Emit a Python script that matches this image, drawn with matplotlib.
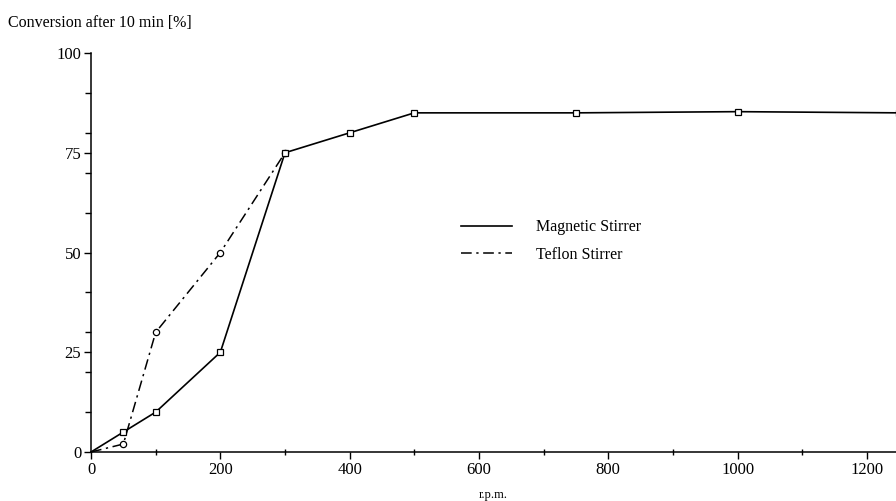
import matplotlib.pyplot as plt
from matplotlib.ticker import MultipleLocator

plt.rcParams['font.family'] = ['Liberation Serif', 'DejaVu Serif']

# magnetic stirrer (squares)
rpm_mag = [0, 50, 100, 200, 300, 400, 500, 750, 1000, 1250]
conv_mag = [0, 5, 10, 25, 75, 80, 85, 85, 85.3, 85]

# teflon stirrer (circles)
rpm_tef = [0, 50, 100, 200, 300]
conv_tef = [0, 2, 30, 50, 75]

fig = plt.figure(figsize=(8.96, 5.01), dpi=100)
ax = fig.add_axes([0.1016, 0.0978, 0.8984, 0.7964])

ax.plot(rpm_tef, conv_tef, color='black', lw=1.1, linestyle=(0, (7, 3, 1.5, 3)),
        marker='o', markersize=4.5, markerfacecolor='white', markeredgewidth=0.9,
        markevery=slice(1, None), label='Teflon Stirrer', clip_on=False, zorder=2)
ax.plot(rpm_mag, conv_mag, color='black', lw=1.2,
        marker='s', markersize=4.5, markerfacecolor='white', markeredgewidth=0.9,
        markevery=slice(1, None), label='Magnetic Stirrer', clip_on=False, zorder=3)

ax.set_xlim(0, 1245)
ax.set_ylim(0, 100)
ax.spines['top'].set_visible(False)
ax.spines['right'].set_visible(False)
ax.spines['left'].set_linewidth(1.1)
ax.spines['bottom'].set_linewidth(1.1)

ax.xaxis.set_major_locator(MultipleLocator(200))
ax.xaxis.set_minor_locator(MultipleLocator(100))
ax.yaxis.set_major_locator(MultipleLocator(25))
ax.yaxis.set_minor_locator(MultipleLocator(10))
ax.tick_params(axis='both', which='major', direction='out', length=5, width=1, labelsize=12, pad=2)
ax.tick_params(axis='x', which='minor', direction='inout', length=5, width=1)
ax.tick_params(axis='y', which='minor', direction='out', length=4, width=1)

ax.set_xlabel('r.p.m.', fontsize=9, labelpad=8)
fig.text(0.009, 0.955, 'Conversion after 10 min [%]', fontsize=11.5, ha='left', va='center')

handles, labels = ax.get_legend_handles_labels()
ax.legend(handles[::-1], labels[::-1], loc='center left', bbox_to_anchor=(0.498, 0.519),
          bbox_transform=fig.transFigure, frameon=False, fontsize=11.5,
          handlelength=3.2, handletextpad=1.5, labelspacing=0.7)
# legend markers off
for line in ax.get_legend().get_lines():
    line.set_marker('')

fig.savefig('out.png', dpi=100)
